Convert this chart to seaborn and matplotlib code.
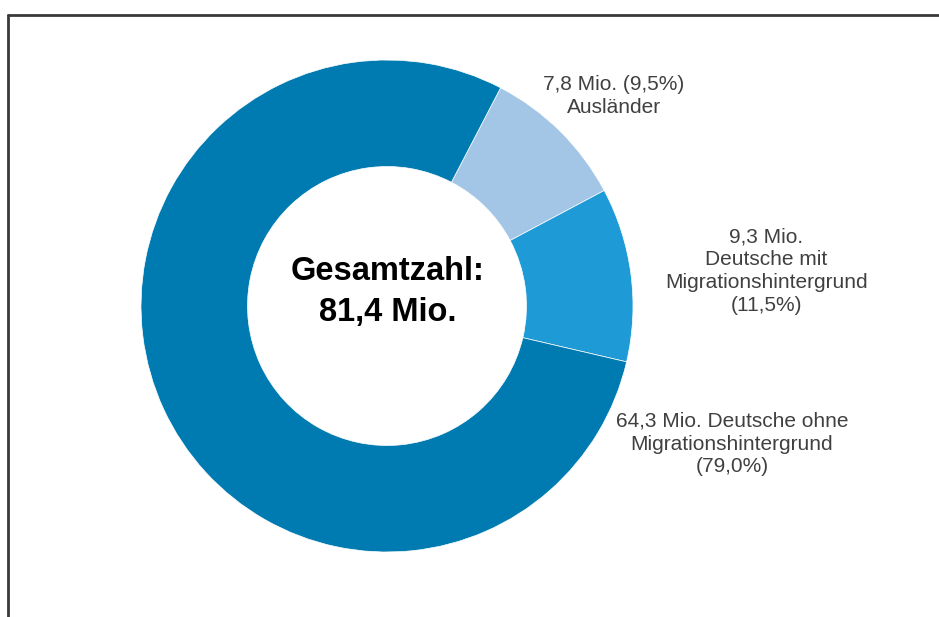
import matplotlib
matplotlib.use("Agg")
from matplotlib import pyplot as plt
from matplotlib.lines import Line2D
import seaborn as sns

# Bevölkerung nach Migrationsstatus (Mio.)
groups = ["Ausländer", "Deutsche mit Migrationshintergrund", "Deutsche ohne Migrationshintergrund"]
values = [7.8, 9.3, 64.3]
shares = ["9,5%", "11,5%", "79,0%"]
colors = ["#A3C6E7", "#1E9AD6", "#007BB1"]
total_label = "Gesamtzahl:\n81,4 Mio."

sns.set_theme(style="white")
plt.rcParams["font.family"] = ["Liberation Sans", "DejaVu Sans"]

W, H = 939, 617
fig = plt.figure(figsize=(W / 100, H / 100), dpi=100)
fig.patch.set_facecolor("white")

# frame around the slide (only left and top edges visible)
fig.add_artist(Line2D([8 / W, 8 / W], [0, 1 - 15 / H], color="#3a3a3a", lw=2,
                      transform=fig.transFigure))
fig.add_artist(Line2D([8 / W, 1], [1 - 15 / H, 1 - 15 / H], color="#3a3a3a", lw=2,
                      transform=fig.transFigure))

cx, cy, r = 387, 306, 246
ax = fig.add_axes([(cx - r) / W, (H - cy - r) / H, 2 * r / W, 2 * r / H])

ax.pie(values, colors=colors, startangle=62.5, counterclock=False,
       wedgeprops=dict(width=0.433, edgecolor="white", linewidth=0.5))
ax.set_xlim(-1, 1)
ax.set_ylim(-1, 1)
ax.set_aspect("auto")

ax.text(0.004, 0.057, total_label, ha="center", va="center", fontsize=23.5,
        fontweight="bold", color="black", linespacing=1.4)

txt = dict(ha="center", va="center", fontsize=15, color="#404040", linespacing=1.26)
ax.text(0.923, 0.852, f"7,8 Mio. ({shares[0]})\n{groups[0]}", **txt)
ax.text(1.542, 0.142, f"9,3 Mio.\nDeutsche mit\nMigrationshintergrund\n({shares[1]})", **txt)
ax.text(1.402, -0.561, f"64,3 Mio. Deutsche ohne\nMigrationshintergrund\n({shares[2]})", **txt)

plt.savefig("out.png", dpi=100)
